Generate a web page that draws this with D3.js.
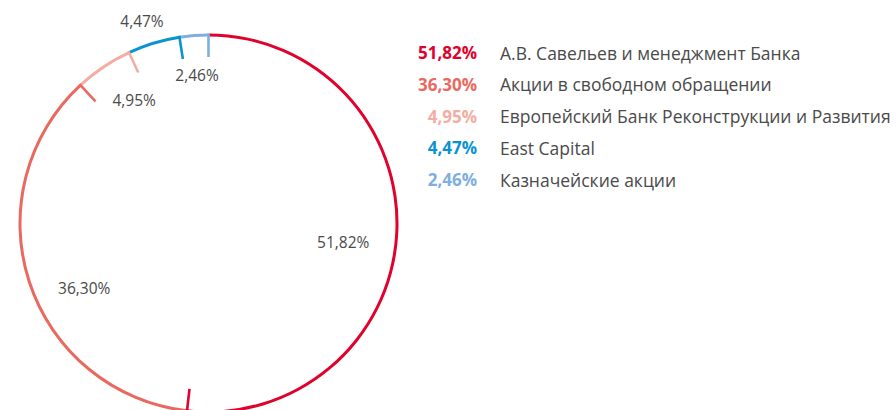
<!DOCTYPE html>
<html><head><meta charset="utf-8">
<script src="https://cdn.jsdelivr.net/npm/d3@7"></script>
<style>
html,body{margin:0;padding:0;background:#fff;}
svg{display:block;font-family:"Open Sans",sans-serif;}
</style></head>
<body>
<svg id="chart" width="896" height="410"></svg>
<script>
const categories = ["А.В. Савельев и менеджмент Банка","Акции в свободном обращении","Европейский Банк Реконструкции и Развития","East Capital","Казначейские акции"];
const values = [51.82, 36.30, 4.95, 4.47, 2.46];
const valueLabels = ["51,82%","36,30%","4,95%","4,47%","2,46%"];
const colors = ["#e0022c","#e9695f","#f3ada1","#0a92d2","#80aee0"];

const svg = d3.select("#chart");
const cx = 208.5, cy = 223.5, R = 188.5, ringW = 3, tickLen = 22;
const textColor = "#4a4a4a";

const pie = d3.pie().sort(null).value(d => d.v);
const arcs = pie(values.map((v,i)=>({v,i})));
const g = svg.append("g").attr("transform",`translate(${cx},${cy})`);

const arc = d3.arc().innerRadius(R - ringW/2).outerRadius(R + ringW/2);
g.selectAll("path.seg").data(arcs).join("path")
  .attr("class","seg").attr("d",arc).attr("fill",d=>colors[d.data.i]);

// ticks at segment ends
g.selectAll("line.tick").data(arcs).join("line")
  .attr("x1",d=>Math.sin(d.endAngle)*(R+ringW/2))
  .attr("y1",d=>-Math.cos(d.endAngle)*(R+ringW/2))
  .attr("x2",d=>Math.sin(d.endAngle)*(R-tickLen))
  .attr("y2",d=>-Math.cos(d.endAngle)*(R-tickLen))
  .attr("stroke",d=>colors[d.data.i]).attr("stroke-width",2.6);

// label placement (layout only): radius and angular shift in degrees
const labelPlace = [{r:136,shift:4.7},{r:140,shift:-9.3},{r:144,shift:2.8},{r:213,shift:-1.3},{r:149,shift:0}];
g.selectAll("text.lbl").data(arcs).join("text")
  .attr("class","lbl")
  .attr("x",d=>{const p=labelPlace[d.data.i];const a=(d.startAngle+d.endAngle)/2+p.shift*Math.PI/180;return Math.sin(a)*p.r;})
  .attr("y",d=>{const p=labelPlace[d.data.i];const a=(d.startAngle+d.endAngle)/2+p.shift*Math.PI/180;return -Math.cos(a)*p.r;})
  .attr("text-anchor","middle").attr("dominant-baseline","central")
  .attr("font-size",15.5).attr("fill",textColor)
  .text(d=>valueLabels[d.data.i]);

// legend
const ly = d3.scalePoint().domain(d3.range(categories.length)).range([52.5,179.5]);
const leg = svg.append("g");
leg.selectAll("text.pct").data(categories).join("text")
  .attr("x",477).attr("y",(d,i)=>ly(i)).attr("text-anchor","end").attr("dominant-baseline","central")
  .attr("font-size",17).attr("font-weight","bold").attr("fill",(d,i)=>colors[i])
  .text((d,i)=>valueLabels[i]);
leg.selectAll("text.name").data(categories).join("text")
  .attr("x",500).attr("y",(d,i)=>ly(i)).attr("dominant-baseline","central")
  .attr("font-size",17.5).attr("fill",textColor)
  .text(d=>d);
</script>
</body></html>
